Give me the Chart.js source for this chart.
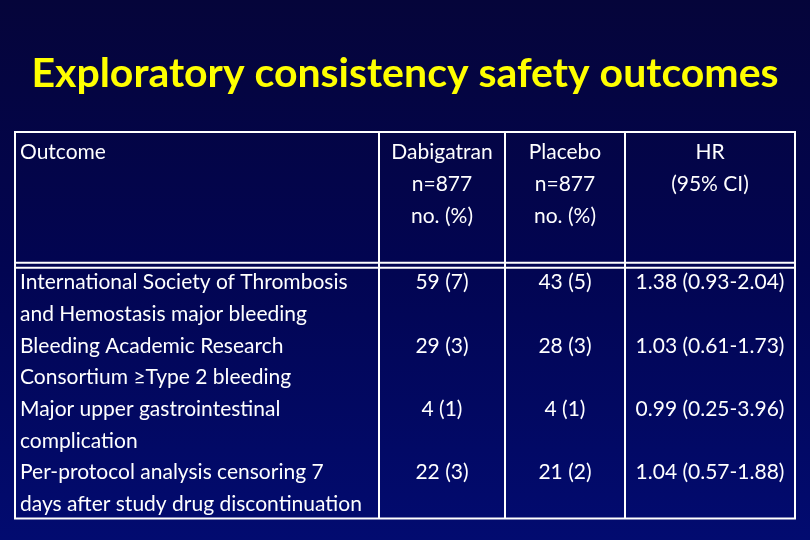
<!DOCTYPE html>
<html>
<head>
<meta charset="utf-8">
<script src="https://cdn.jsdelivr.net/npm/chart.js@4"></script>
<style>
  html, body { margin: 0; padding: 0; background: #03053f; }
  canvas { display: block; }
</style>
</head>
<body>
<canvas id="tabla" width="810" height="540"></canvas>
<script>
// ── Datos ────────────────────────────────────────────
const titulo = 'Exploratory consistency safety outcomes';
const encabezados = [
  ['Outcome'],
  ['Dabigatran', 'n=877', 'no. (%)'],
  ['Placebo', 'n=877', 'no. (%)'],
  ['HR', '(95% CI)']
];
const outcomes = [
  ['International Society of Thrombosis', 'and Hemostasis major bleeding'],
  ['Bleeding Academic Research', 'Consortium \u2265Type 2 bleeding'],
  ['Major upper gastrointestinal', 'complication'],
  ['Per-protocol analysis censoring 7', 'days after study drug discontinuation']
];
const dabigatranN = [59, 29, 4, 22];
const dabigatranPct = [7, 3, 1, 3];
const placeboN = [43, 28, 4, 21];
const placeboPct = [5, 3, 1, 2];
const hr = [1.38, 1.03, 0.99, 1.04];
const ciLow = [0.93, 0.61, 0.25, 0.57];
const ciHigh = [2.04, 1.73, 3.96, 1.88];

// ── Layout de la tabla ───────────────────────────────
const anchoCols = [364, 126, 120, 170];
const bordes = anchoCols.reduce((acc, w) => { acc.push(acc[acc.length - 1] + w); return acc; }, [0]);
const centro = i => (bordes[i] + bordes[i + 1]) / 2;
const lineasCuerpo = outcomes.length * 2;
const altoEncabezado = 4.21;
const primeraLineaEnc = -3.58, pasoEnc = 1.02;

const fuente = 'Lato, "Open Sans", sans-serif';
const fmt = v => v.toFixed(2);

// puntos (una fila = 2 líneas de texto)
const puntosTexto = (textos) => textos.map((t, i) => ({ y: i * 2 + 0.55, texto: t }));

const datasets = [
  { texto: outcomes, x: 0, align: 'left' },
  { texto: dabigatranN.map((n, i) => `${n} (${dabigatranPct[i]})`), x: centro(1), align: 'center' },
  { texto: placeboN.map((n, i) => `${n} (${placeboPct[i]})`), x: centro(2), align: 'center' },
  { texto: hr.map((h, i) => `${fmt(h)} (${fmt(ciLow[i])}-${fmt(ciHigh[i])})`), x: centro(3), align: 'center' }
].map(d => ({
  data: puntosTexto(d.texto).map(p => ({ x: d.x, y: p.y, texto: p.texto })),
  align: d.align,
  pointRadius: 0
}));

// ── Plugin: fondo, grilla y textos ───────────────────
const pluginTabla = {
  id: 'tabla',
  beforeDraw(chart) {
    const { ctx, width, height } = chart;
    const g = ctx.createLinearGradient(0, 0, 0, height);
    g.addColorStop(0, '#05053a');
    g.addColorStop(0.5, '#020552');
    g.addColorStop(1, '#020b70');
    ctx.save();
    ctx.fillStyle = g;
    ctx.fillRect(0, 0, width, height);
    ctx.restore();
  },
  afterDatasetsDraw(chart) {
    const { ctx, scales: { x, y } } = chart;
    const top = y.getPixelForValue(-altoEncabezado);
    const bottom = y.getPixelForValue(lineasCuerpo);
    const sep = y.getPixelForValue(0);
    const left = x.getPixelForValue(bordes[0]);
    const right = x.getPixelForValue(bordes[bordes.length - 1]);

    ctx.save();
    ctx.strokeStyle = '#ffffff';
    ctx.lineWidth = 2;
    ctx.strokeRect(left, top, right - left, bottom - top);
    bordes.slice(1, -1).forEach(b => {
      const px = Math.round(x.getPixelForValue(b));
      ctx.beginPath(); ctx.moveTo(px, top); ctx.lineTo(px, bottom); ctx.stroke();
    });
    [sep - 2.5, sep + 2.5].forEach(py => {
      ctx.beginPath(); ctx.moveTo(left, py); ctx.lineTo(right, py); ctx.stroke();
    });

    ctx.fillStyle = '#ffffff';
    ctx.textBaseline = 'middle';
    ctx.font = `21px ${fuente}`;

    // encabezados
    encabezados.forEach((lineas, c) => {
      lineas.forEach((t, k) => {
        const py = y.getPixelForValue(primeraLineaEnc + k * pasoEnc);
        if (c === 0) {
          ctx.textAlign = 'left';
          ctx.fillText(t, x.getPixelForValue(bordes[0]) + 5, py);
        } else {
          ctx.textAlign = 'center';
          ctx.fillText(t, x.getPixelForValue(centro(c)), py);
        }
      });
    });

    // celdas
    chart.data.datasets.forEach((ds, di) => {
      const meta = chart.getDatasetMeta(di);
      meta.data.forEach((el, i) => {
        const t = ds.data[i].texto;
        ctx.textAlign = ds.align;
        const px = ds.align === 'left' ? el.x + 5 : el.x;
        const lineas = Array.isArray(t) ? t : [t];
        const paso = y.getPixelForValue(1) - y.getPixelForValue(0);
        lineas.forEach((l, k) => ctx.fillText(l, px, el.y + k * paso));
      });
    });
    ctx.restore();
  }
};

new Chart(document.getElementById('tabla'), {
  type: 'scatter',
  data: { datasets },
  options: {
    responsive: false,
    animation: false,
    layout: { padding: { left: 15, right: 15, top: 0, bottom: 21.5 } },
    plugins: {
      legend: { display: false },
      tooltip: { enabled: false },
      title: {
        display: true,
        text: titulo,
        color: '#ffff00',
        font: { family: fuente, size: 41, weight: 'bold', lineHeight: 1.2 },
        padding: { top: 49, bottom: 33.8 }
      }
    },
    scales: {
      x: { type: 'linear', display: false, min: bordes[0], max: bordes[bordes.length - 1] },
      y: { type: 'linear', display: false, reverse: true, min: -altoEncabezado, max: lineasCuerpo }
    }
  },
  plugins: [pluginTabla]
});
</script>
</body>
</html>
